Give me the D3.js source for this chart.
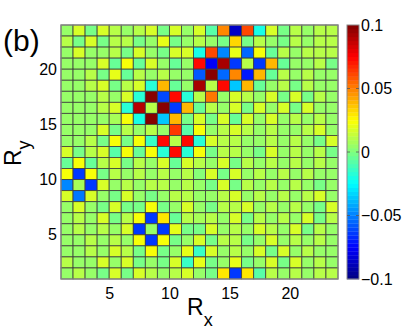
<!DOCTYPE html>
<html>
<head>
<meta charset="UTF-8">
<script src="https://cdn.jsdelivr.net/npm/d3@7"></script>
<style>
  body { margin: 0; background: #fff; }
  svg text { font-family: "Liberation Sans", Arial, Helvetica, sans-serif; fill: #000; }
</style>
</head>
<body>
<svg id="chart" width="407" height="332"></svg>
<script>
// grid corners run 1..24 on both axes (pcolor style, 23 x 23 cells)
var gridMin = 1, gridMax = 24;
var xTicks = [5, 10, 15, 20];
var yTicks = [5, 10, 15, 20];
var colorTicks = [-0.1, -0.05, 0, 0.05, 0.1];
var colorTickLabels = ["\u22120.1", "\u22120.05", "0", "0.05", "0.1"];

// cell values, top row first (Ry 23..24) down to bottom row (Ry 1..2), columns Rx 1..23
var rows = [
  [.004, .016, -.002, .016, .01, .004, .01, .016, -.002, .016, .004, .016, -.008, .05, -.087, .062, -.02, .018, -.002, .01, .004, .01, .01],
  [.01, -.002, .016, -.002, .01, .01, -.002, .004, .021, -.002, .004, .01, .004, -.002, .033, -.002, .01, .004, -.002, .01, .004, .01, .01],
  [.004, .016, .004, .004, .01, -.002, .016, .004, -.002, .016, .016, -.02, .06, -.048, .02, -.055, .022, -.005, .01, .004, .01, .01, .01],
  [.004, .004, .004, .016, -.005, .022, -.005, .016, .004, -.005, .004, .075, -.078, .092, -.063, .01, -.063, .04, -.005, .004, .004, .01, -.002],
  [.004, .004, .01, -.002, .021, -.005, .01, .004, .01, .004, .004, -.057, .1, -.055, .05, -.07, .04, -.005, .01, .004, .01, .004, .004],
  [.004, .004, .01, .016, -.002, .01, .016, -.018, .04, -.005, .004, .092, .01, .073, -.037, .04, -.005, .004, .01, -.002, .01, .004, .004],
  [.004, .004, .004, .01, .004, .016, -.018, .1, -.062, .075, -.018, .01, .052, .004, .018, .01, .004, .016, -.002, .018, -.002, .01, .004],
  [.004, .004, .004, .01, .016, -.018, .09, .01, .1, -.063, .04, -.005, .01, .004, .018, -.002, .016, .004, .016, -.002, .016, .004, .004],
  [.004, .004, .004, .004, .007, .022, -.02, .1, -.037, .04, -.002, .016, -.002, .018, -.005, .016, .004, .016, .004, .01, .004, .01, .004],
  [.004, .004, .004, .016, -.002, .01, .004, .01, .004, .063, -.008, .022, .004, .01, .016, .01, .004, .01, .004, .004, .01, .016, .004],
  [.004, .004, .01, -.002, .022, -.002, .022, -.014, .075, .01, .075, -.016, .016, .01, .01, .004, .004, .01, .004, .01, .004, -.002, .016],
  [.016, -.002, .01, .016, -.008, .022, -.005, .022, -.016, .072, -.018, .022, -.002, .01, .01, .004, -.002, .016, .004, .01, .004, .01, -.002],
  [-.005, .022, -.005, .01, .016, -.002, .01, .004, .016, -.005, .016, .01, .004, .016, -.002, .01, .004, .01, .004, .01, .004, .01, .004],
  [.022, -.063, .022, -.002, .01, .004, .01, .004, .01, .004, .01, .001, .016, -.002, .016, .004, .01, .004, .01, .004, .01, .004, .004],
  [-.048, .007, -.063, .016, .004, .01, .004, .01, .01, .004, .01, .004, -.002, .016, -.002, .01, .004, .01, .004, .01, .004, -.002, .004],
  [.018, -.052, .016, .004, -.002, .016, .004, -.002, .004, .01, .01, .004, .004, .01, .016, .004, .01, .004, .01, .004, .01, .016, .004],
  [.004, .016, .004, -.002, .016, -.002, -.002, .022, -.002, .004, .016, .004, -.002, .01, .01, .016, .004, .01, .004, .01, .004, -.002, .016],
  [.004, .01, .004, .016, -.002, .01, .022, -.063, .03, -.005, .01, .007, .01, .004, .018, -.002, .01, .004, .01, .004, .016, -.002, .01],
  [.004, .01, .004, .01, .004, .016, -.063, .004, -.063, .021, -.002, -.002, .016, .004, .01, .004, .016, .01, .004, .016, -.002, .01, .004],
  [.004, .004, .01, .004, .01, .004, .022, -.063, .022, -.002, .004, .018, -.002, .01, .01, -.002, .004, .016, .004, .01, .004, .01, .004],
  [.004, .004, .01, .004, .016, .01, -.002, .022, -.002, .004, .021, -.015, .016, .004, .01, .004, .016, -.002, .016, .004, .01, .004, .004],
  [.01, .004, .004, .016, .004, .016, -.002, .004, -.002, .016, -.015, .021, -.002, .004, .021, -.002, .004, .016, -.002, .016, .004, .01, .004],
  [.004, .01, .004, -.002, .016, -.002, .016, .01, .004, .01, .016, .004, -.002, .03, -.063, .03, -.008, .01, .004, .01, .004, .01, .01]
];

// MATLAB style jet colormap, 64 steps
function jet(t) {
  var r = Math.min(Math.max(Math.min(4 * t - 1.5, -4 * t + 4.5), 0), 1);
  var g = Math.min(Math.max(Math.min(4 * t - 0.5, -4 * t + 3.5), 0), 1);
  var b = Math.min(Math.max(Math.min(4 * t + 0.5, -4 * t + 2.5), 0), 1);
  return d3.rgb(r * 255, g * 255, b * 255).formatHex();
}
var jet64 = d3.range(64).map(function(i) { return jet((i + 0.5) / 64); });

var color = d3.scaleQuantize().domain([-0.1, 0.1]).range(jet64);

var svg = d3.select("#chart");

var x = d3.scaleLinear().domain([gridMin, gridMax]).range([61, 338]);
var y = d3.scaleLinear().domain([gridMin, gridMax]).range([279, 25]);

// cells
var cells = [];
rows.forEach(function(row, i) {
  var ry = gridMax - 1 - i;
  row.forEach(function(v, j) {
    cells.push({ rx: gridMin + j, ry: ry, v: v });
  });
});

svg.append("g").selectAll("rect")
  .data(cells)
  .enter().append("rect")
  .attr("x", function(d) { return x(d.rx); })
  .attr("y", function(d) { return y(d.ry + 1); })
  .attr("width", function(d) { return x(d.rx + 1) - x(d.rx); })
  .attr("height", function(d) { return y(d.ry) - y(d.ry + 1); })
  .attr("fill", function(d) { return color(d.v); })
  .attr("stroke", "#3c3c3c")
  .attr("stroke-width", 0.8);

// axes box
svg.append("rect")
  .attr("x", x(gridMin)).attr("y", y(gridMax))
  .attr("width", x(gridMax) - x(gridMin))
  .attr("height", y(gridMin) - y(gridMax))
  .attr("fill", "none")
  .attr("stroke", "#8a8a8a")
  .attr("stroke-width", 1.2);

// tick labels
var xAxis = svg.append("g")
  .attr("transform", "translate(0,279)")
  .call(d3.axisBottom(x).tickValues(xTicks).tickSize(0).tickPadding(9));
var yAxis = svg.append("g")
  .attr("transform", "translate(61,0)")
  .call(d3.axisLeft(y).tickValues(yTicks).tickSize(0).tickPadding(4));
[xAxis, yAxis].forEach(function(a) {
  a.select(".domain").remove();
  a.selectAll("text").attr("font-size", 16).attr("font-family", null).attr("fill", "#000");
});

// axis titles
var xt = svg.append("text").attr("x", 187).attr("y", 315).attr("font-size", 23);
xt.append("tspan").text("R");
xt.append("tspan").attr("font-size", 18).attr("dy", 11).text("x");

var yt = svg.append("text")
  .attr("transform", "translate(21,166) rotate(-90)")
  .attr("font-size", 23);
yt.append("tspan").text("R");
yt.append("tspan").attr("font-size", 18).attr("dy", 9).text("y");

svg.append("text").attr("x", 3).attr("y", 51).attr("font-size", 30).text("(b)");

// colorbar
var cbX = 347, cbW = 12;
var cy = d3.scaleLinear().domain([-0.1, 0.1]).range([279, 25]);
var step = 0.2 / 64;
svg.append("g").selectAll("rect")
  .data(jet64)
  .enter().append("rect")
  .attr("x", cbX)
  .attr("y", function(d, i) { return cy(-0.1 + (i + 1) * step); })
  .attr("width", cbW)
  .attr("height", function(d, i) { return cy(-0.1 + i * step) - cy(-0.1 + (i + 1) * step) + 0.3; })
  .attr("fill", function(d) { return d; });

svg.append("rect")
  .attr("x", cbX).attr("y", 25).attr("width", cbW).attr("height", 254)
  .attr("fill", "none").attr("stroke", "#8a8a8a").attr("stroke-width", 1);

var cbAxis = svg.append("g")
  .attr("transform", "translate(" + (cbX + cbW) + ",0)")
  .call(d3.axisRight(cy).tickValues(colorTicks)
    .tickFormat(function(d, i) { return colorTickLabels[i]; })
    .tickSize(0).tickPadding(2));
cbAxis.select(".domain").remove();
cbAxis.selectAll("text").attr("font-size", 16).attr("font-family", null).attr("fill", "#000");

// small inner ticks on both colorbar edges
svg.append("g").selectAll("path")
  .data(colorTicks.slice(1, 4))
  .enter().append("path")
  .attr("d", function(d) {
    var yy = cy(d);
    return "M" + cbX + "," + yy + "h3M" + (cbX + cbW) + "," + yy + "h-3";
  })
  .attr("stroke", "#555").attr("stroke-width", 0.8);
</script>
</body>
</html>
